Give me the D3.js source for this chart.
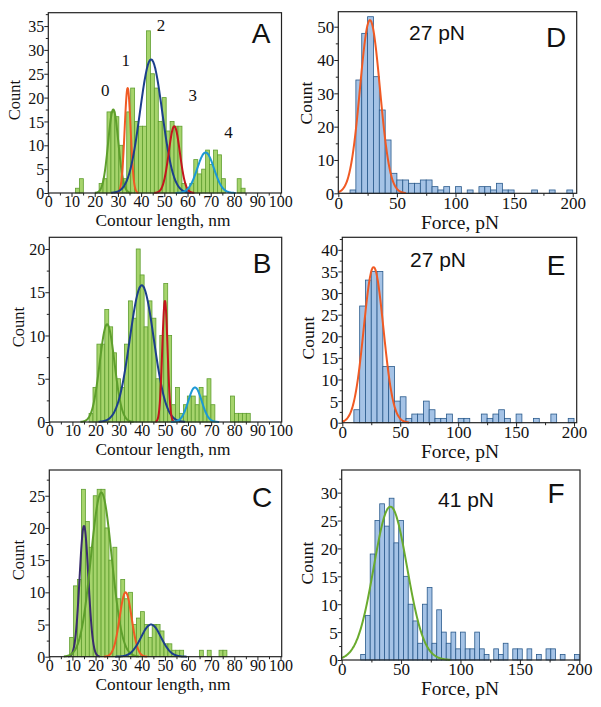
<!DOCTYPE html>
<html><head><meta charset="utf-8">
<script src="https://cdn.jsdelivr.net/npm/d3@7"></script>
<style>body{margin:0;background:#fff}svg{display:block}</style>
</head><body>
<svg id="c" width="601" height="707"></svg>
<script>
// ---------- DATA ----------
// Contour-length histograms (nm): bin start, bin width, counts
const binStartA = 11.7, binWidthA = 1.7;
const countsA = [1,3,0,0,0,0,2,3,17,17,16,10,3,17,22,15,14,14,34,25,22,15,20,13,15,14,14,2,1,2,7,4,5,9,6,9,8,3,0,0,0,3,1];
const binStartB = 17.2, binWidthB = 1.7;
const countsB = [1,4,9,9,13,11,8,5,4,9,14,12,20,17,11,14,12,5,10,16,10,2,4,1,2,3,3,2,4,3,5,2,0,0,0,0,3,1,1,1,1];
const binStartC = 8.8, binWidthC = 1.7;
const countsC = [3,11,12,26,21,17,25,26,26,20,15,17,9,12,9,10,5,6,7,5,3,5,5,4,2,2,1,1,1,0,0,0,0,1,0,1,0,0,1,1];
// Force histograms (pN)
const binStartD = 10, binWidthD = 5;
const countsD = [1,34,48,53,35,25,16,6,4,4,3,3,4,4,2,1,2,0,2,0,1,0,2,2,1,3,1,1,0,0,0,1,0,0,1,0,0,1];
const binStartE = 10, binWidthE = 5;
const countsE = [3,27,33,35,35,13,13,5,6,1,2,2,5,3,1,1,2,0,1,1,0,0,2,1,2,3,1,0,2,0,0,1,0,0,2,0,0,1];
const binStartF = 16, binWidthF = 4;
const countsF = [1,8,19,25,28,24,29,21,25,15,10,7,3,10,13,3,9,5,3,5,2,5,2,2,5,2,1,0,2,1,3,0,2,2,0,2,0,1,0,2,2,0,1,0,0,1];

// Gaussian fits: centre, sigma, amplitude
const fitMuA = [28, 34.2, 44.3, 54.3, 67.8], fitSigmaA = [2.2, 1.3, 4.8, 2.4, 3.6], fitAmpA = [17.5, 22, 28, 14, 8.5];
const fitMuB = [25, 40, 50, 63], fitSigmaB = [3.2, 5.2, 1.15, 2.9], fitAmpB = [11.3, 15.8, 14, 4];
const fitMuC = [15, 22.5, 33, 44], fitSigmaC = [1.9, 4.5, 2.6, 4.3], fitAmpC = [20.3, 25.5, 10, 5];
const fitMuD = [27], fitSigmaD = [8.5], fitAmpD = [52];
const fitMuE = [27], fitSigmaE = [8.5], fitAmpE = [36];
const fitMuF = [41], fitSigmaF = [14], fitAmpF = [27.5];

// Peak annotations in panel A (data coordinates)
const peakLabelsA = ["0","1","2","3","4"];
const peakLabelXA = [24.5, 33.4, 48.6, 62.3, 77.7];
const peakLabelYA = [21.6, 27.9, 35.2, 20.5, 12.8];

// Tick labels
const xTicksLen = [0,10,20,30,40,50,60,70,80,90,100];
const xMinorLen = [5,15,25,35,45,55,65,75,85,95];
const xTicksForce = [0,50,100,150,200];
const xMinorForce = [25,75,125,175];
const yTicksA = [0,5,10,15,20,25,30,35];
const yTicksB = [0,5,10,15,20];
const yTicksC = [0,5,10,15,20,25];
const yTicksD = [0,10,20,30,40,50];
const yTicksE = [0,5,10,15,20,25,30,35,40];
const yTicksF = [0,5,10,15,20,25,30];
const forceLabels = ["27 pN", "27 pN", "41 pN"];

// ---------- DRAWING ----------
const svg = d3.select('#c');
const serif = '"Liberation Serif","Times New Roman",serif';
const sans = '"Liberation Sans",Arial,sans-serif';
const green = '#5e9f2c', orange = '#f05a24', navy = '#1c3f8c', red = '#c3161d', sky = '#1b98d6', purple = '#3a2c6e';

function gauss(mu, s, a, xmin, xmax) {
  const lo = Math.max(xmin, mu - 3.6 * s), hi = Math.min(xmax, mu + 3.6 * s);
  return d3.range(161).map(i => {
    const xv = lo + (hi - lo) * i / 160;
    return [xv, a * Math.exp(-((xv - mu) ** 2) / (2 * s * s))];
  });
}

function panel(p) {
  const x = d3.scaleLinear().domain([0, p.xMax]).range([p.left, p.right]);
  const y = d3.scaleLinear().domain([0, p.yMax]).range([p.bottom, p.top]);
  const g = svg.append('g');

  const bins = p.counts.map((c, i) => ({x0: p.start + i * p.width, x1: p.start + (i + 1) * p.width, c}))
                       .filter(d => d.c > 0);
  g.selectAll('rect.bar').data(bins).join('rect').attr('class', 'bar')
    .attr('x', d => x(d.x0)).attr('width', d => x(d.x1) - x(d.x0))
    .attr('y', d => y(d.c)).attr('height', d => y(0) - y(d.c))
    .attr('fill', p.fill).attr('stroke', p.stroke).attr('stroke-width', 0.8);

  const line = d3.line().x(d => x(d[0])).y(d => y(d[1])).curve(d3.curveBasis);
  p.mu.forEach((mu, i) => {
    g.append('path').attr('d', line(gauss(mu, p.sigma[i], p.amp[i], 0, p.xMax)))
      .attr('fill', 'none').attr('stroke', p.colors[i]).attr('stroke-width', 2);
  });

  g.append('rect').attr('x', p.left).attr('y', p.top)
    .attr('width', p.right - p.left).attr('height', p.bottom - p.top)
    .attr('fill', 'none').attr('stroke', '#222').attr('stroke-width', 1.2);

  // x axis
  const ax = g.append('g').attr('transform', `translate(0,${p.bottom})`)
    .call(d3.axisBottom(x).tickValues(p.xTicks).tickSize(4).tickFormat(d3.format('d')));
  ax.select('.domain').remove();
  ax.selectAll('line').attr('stroke', '#222');
  ax.selectAll('text').attr('y', p.xLabOff).attr('dy', '0.35em')
    .attr('font-family', serif).attr('font-size', p.tickFont).attr('fill', '#111');
  const axm = g.append('g').attr('transform', `translate(0,${p.bottom})`)
    .call(d3.axisBottom(x).tickValues(p.xMinor).tickSize(2.5).tickFormat(''));
  axm.select('.domain').remove();
  axm.selectAll('text').remove();
  axm.selectAll('line').attr('stroke', '#222');

  // y axis
  const ay = g.append('g').attr('transform', `translate(${p.left},0)`)
    .call(d3.axisLeft(y).tickValues(p.yTicks).tickSize(4).tickFormat(d3.format('d')));
  ay.select('.domain').remove();
  ay.selectAll('line').attr('stroke', '#222');
  ay.selectAll('text').attr('x', -4).attr('dy', '0.35em')
    .attr('font-family', serif).attr('font-size', p.tickFont).attr('fill', '#111');
  const yMinor = p.yTicks.slice(0, -1).map((v, i) => (v + p.yTicks[i + 1]) / 2)
    .concat([p.yTicks[p.yTicks.length - 1] + (p.yTicks[1] - p.yTicks[0]) / 2]).filter(v => v < p.yMax);
  const aym = g.append('g').attr('transform', `translate(${p.left},0)`)
    .call(d3.axisLeft(y).tickValues(yMinor).tickSize(2.5).tickFormat(''));
  aym.select('.domain').remove();
  aym.selectAll('text').remove();
  aym.selectAll('line').attr('stroke', '#222');

  // titles
  g.append('text').attr('x', p.xtX).attr('y', p.xtY).attr('dy', '0.35em')
    .attr('text-anchor', 'middle').attr('font-family', serif).attr('font-size', p.xtFont)
    .attr('fill', '#111').text(p.xTitle);
  g.append('text').attr('transform', `translate(${p.ytX},${p.ytY}) rotate(-90)`).attr('dy', '0.35em')
    .attr('text-anchor', 'middle').attr('font-family', serif).attr('font-size', p.ytFont)
    .attr('fill', '#111').text('Count');
  g.append('text').attr('x', p.letX).attr('y', p.letY).attr('text-anchor', 'middle')
    .attr('font-family', sans).attr('font-size', 28).attr('fill', '#111').text(p.letter);
  if (p.forceLabel) {
    g.append('text').attr('x', p.flX).attr('y', p.flY).attr('text-anchor', 'middle')
      .attr('font-family', sans).attr('font-size', 21).attr('fill', '#111').text(p.forceLabel);
  }
  if (p.peakLabels) {
    g.selectAll('text.peak').data(p.peakLabels).join('text').attr('class', 'peak')
      .attr('x', (d, i) => x(p.peakX[i])).attr('y', (d, i) => y(p.peakY[i])).attr('dy', '0.35em')
      .attr('text-anchor', 'middle').attr('font-family', serif).attr('font-size', 17)
      .attr('fill', '#111').text(d => d);
  }
}

const leftFill = '#a6d46c', leftStroke = '#5f9e2f';
const rightFill = '#a5c3e6', rightStroke = '#2a5a8c';

const common = {xTitle: 'Contour length, nm', xTicks: xTicksLen, xMinor: xMinorLen, xMax: 100.5,
  fill: leftFill, stroke: leftStroke, tickFont: 16, xtFont: 17.3, ytFont: 16.5, xtX: 163, xLabOff: 8.7};
const commonR = {xTitle: 'Force, pN', xTicks: xTicksForce, xMinor: xMinorForce,
  fill: rightFill, stroke: rightStroke, tickFont: 17, xtFont: 19.5, ytFont: 17.5, xtX: 460, xLabOff: 9.5};

panel(Object.assign({}, common, {counts: countsA, start: binStartA, width: binWidthA,
  left: 48.3, right: 281.5, top: 12.7, bottom: 193, yMax: 37.8, yTicks: yTicksA,
  mu: fitMuA, sigma: fitSigmaA, amp: fitAmpA, colors: [green, orange, navy, red, sky],
  xtY: 219.5, ytX: 14, ytY: 100, letter: 'A', letX: 261, letY: 43,
  peakLabels: peakLabelsA, peakX: peakLabelXA, peakY: peakLabelYA}));
panel(Object.assign({}, common, {counts: countsB, start: binStartB, width: binWidthB,
  left: 49.3, right: 281.7, top: 237.3, bottom: 422, yMax: 21.35, yTicks: yTicksB,
  mu: fitMuB, sigma: fitSigmaB, amp: fitAmpB, colors: [green, navy, red, sky],
  xtY: 448.5, ytX: 18, ytY: 327, letter: 'B', letX: 262, letY: 273}));
panel(Object.assign({}, common, {counts: countsC, start: binStartC, width: binWidthC,
  left: 49.3, right: 281.7, top: 470, bottom: 656.7, yMax: 29, yTicks: yTicksC,
  mu: fitMuC, sigma: fitSigmaC, amp: fitAmpC, colors: [purple, green, orange, navy],
  xtY: 683.5, ytX: 18, ytY: 560, letter: 'C', letX: 262, letY: 507}));

panel(Object.assign({}, commonR, {counts: countsD, start: binStartD, width: binWidthD,
  left: 338.3, right: 576.7, top: 11.7, bottom: 193.3, xMax: 203.4, yMax: 54.5, yTicks: yTicksD,
  mu: fitMuD, sigma: fitSigmaD, amp: fitAmpD, colors: [orange],
  xtY: 222.5, ytX: 306, ytY: 103, letter: 'D', letX: 556, letY: 47,
  forceLabel: forceLabels[0], flX: 437, flY: 40}));
panel(Object.assign({}, commonR, {counts: countsE, start: binStartE, width: binWidthE,
  left: 342.3, right: 576.7, top: 237.3, bottom: 422.7, xMax: 202.3, yMax: 42.9, yTicks: yTicksE,
  mu: fitMuE, sigma: fitSigmaE, amp: fitAmpE, colors: [orange],
  xtY: 451.5, ytX: 308, ytY: 338, letter: 'E', letX: 556, letY: 275,
  forceLabel: forceLabels[1], flX: 438, flY: 267}));
panel(Object.assign({}, commonR, {counts: countsF, start: binStartF, width: binWidthF,
  left: 341.7, right: 580, top: 470, bottom: 660, xMax: 200.6, yMax: 34.06, yTicks: yTicksF,
  mu: fitMuF, sigma: fitSigmaF, amp: fitAmpF, colors: ['#6aab2e'],
  xtY: 688, ytX: 307, ytY: 563, letter: 'F', letX: 556, letY: 503,
  forceLabel: forceLabels[2], flX: 466, flY: 507}));
</script>
</body></html>
